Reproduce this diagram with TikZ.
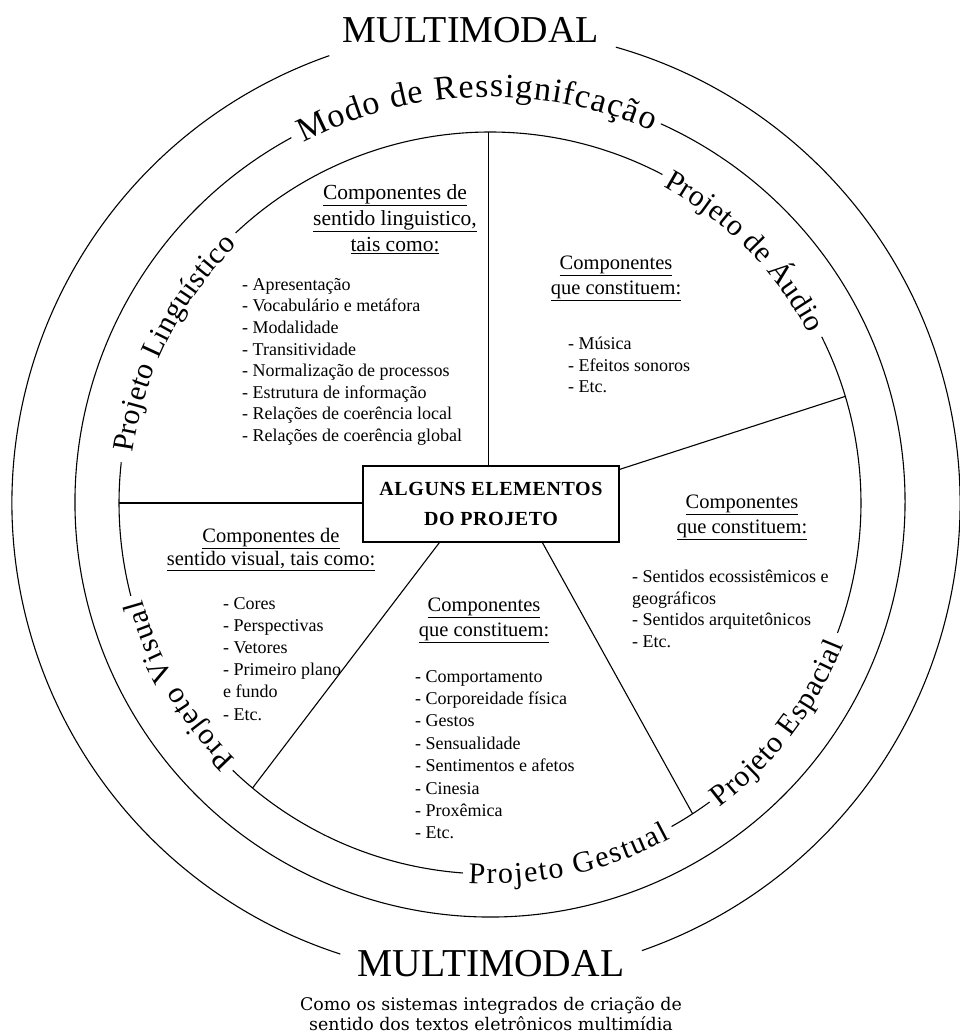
\documentclass[tikz,border=0pt]{standalone}
\usepackage{fontspec}
\setmainfont{Liberation Serif}
\newfontfamily\capfont{DejaVu Serif}
\usetikzlibrary{decorations.text,calc}

\newcommand\ringlabelfont{\fontsize{30}{32}\selectfont}
\newcommand\modofont{\fontsize{34}{36}\selectfont}

\begin{document}
\begin{tikzpicture}[x=1pt,y=1pt,
  ring/.style={line width=1.1pt},
  spoke/.style={line width=1.1pt},
  hubbox/.style={draw, line width=1.2pt, minimum width=256pt, minimum height=76pt,
    inner sep=0pt, align=center,
    font=\fontsize{20}{30}\selectfont\bfseries\addfontfeatures{LetterSpace=3}},
  heading/.style={align=center, inner sep=0pt, anchor=north, font=\fontsize{20.5}{25}\selectfont},
  items/.style={align=left, inner sep=0pt, anchor=north west, font=\fontsize{18}{21.6}\selectfont},
  arclabel/.style={decorate, decoration={text along path, text align=fit to path,
    raise=-10pt, text={|\ringlabelfont|#1}}},
]
\fill[white] (0,0) rectangle (959,1033);
\useasboundingbox (0,0) rectangle (959,1033);

% centres of the three rings
\coordinate (co) at (486,530);
\coordinate (cm) at (490,531);
\coordinate (ci) at (490,530);

% outer ring, open at top and bottom for the MULTIMODAL titles
\draw[ring] ($(co)+(109.3:474)$) arc[start angle=109.3, end angle=252.1, radius=474];
\draw[ring] ($(co)+(-70.8:474)$) arc[start angle=-70.8, end angle=74.1, radius=474];

% middle ring, open at the top
\draw[ring] ($(cm)+(118.6:415)$) arc[start angle=118.6, end angle=425.7, radius=415];
\path[decorate, decoration={text along path, text align=fit to path, raise=-10pt,
    text={|\modofont|Modo de Ressignifcação}}]
  ($(cm)+(117.4:415)$) arc[start angle=117.4, end angle=66.5, radius=415];

% inner ring, open where the five project names sit
\draw[ring] ($(ci)+(173.7:371)$) arc[start angle=173.7, end angle=194.5, radius=371];
\draw[ring] ($(ci)+(226.1:371)$) arc[start angle=226.1, end angle=265.8, radius=371];
\draw[ring] ($(ci)+(-60.7:371)$) arc[start angle=-60.7, end angle=-53.7, radius=371];
\draw[ring] ($(ci)+(-20.5:371)$) arc[start angle=-20.5, end angle=26.6, radius=371];
\draw[ring] ($(ci)+(62.3:371)$) arc[start angle=62.3, end angle=133.3, radius=371];

\path[arclabel=Projeto Linguístico] ($(ci)+(172:371)$) arc[start angle=172, end angle=134.5, radius=371];
\path[arclabel=Projeto de Áudio] ($(ci)+(61.3:371)$) arc[start angle=61.3, end angle=28, radius=371];
\path[arclabel=Projeto Espacial] ($(ci)+(-53:371)$) arc[start angle=-53, end angle=-21.8, radius=371];
\path[arclabel=Projeto Gestual] ($(ci)+(-93.3:371)$) arc[start angle=-93.3, end angle=-61.7, radius=371];
\path[arclabel=Projeto Visual] ($(ci)+(225.2:371)$) arc[start angle=225.2, end angle=195.6, radius=371];

% titles
\node[font=\fontsize{38}{40}\selectfont, anchor=base, inner sep=0pt] (mmtop) at (471,990) {MULTIMODAL};
\node[font=\fontsize{39.5}{42}\selectfont, anchor=base, inner sep=0pt] (mmbot) at (491,56) {MULTIMODAL};
\node[font=\capfont\fontsize{17.4}{20}\selectfont, align=center, anchor=north, inner sep=0pt] (caption) at (491,36)
  {Como os sistemas integrados de criação de\\sentido dos textos eletrônicos multimídia};

% hub and spokes
\node[hubbox] (hub) at (491,529) {ALGUNS ELEMENTOS\\DO PROJETO};

\coordinate (s1) at ($(ci)+(90.3:371)$);
\coordinate (s2) at ($(ci)+(180:371)$);
\coordinate (s3) at ($(ci)+(16.7:371)$);
\coordinate (s4) at ($(ci)+(230.2:371)$);
\coordinate (s5) at ($(ci)+(-56.9:371)$);

\draw[spoke] (hub.north -| s1) -- (s1);
\draw[spoke] (hub.west |- s2) -- (s2);
\draw[spoke] ($(hub.north east)+(0,-4)$) -- (s3);
\draw[spoke] ($(hub.south west)+(77,0)$) -- (s4);
\draw[spoke] ($(hub.south west)+(180,0)$) -- (s5);

% sector contents
\node[heading, font=\fontsize{21.5}{26}\selectfont] (lingh) at (395,849)
  {\underline{Componentes de}\\\underline{sentido linguistico,}\\\underline{tais como:}};
\node[items] (lingl) at (242,755)
  {- Apresentação\\- Vocabulário e metáfora\\- Modalidade\\- Transitividade\\
   - Normalização de processos\\- Estrutura de informação\\
   - Relações de coerência local\\- Relações de coerência global};

\node[heading] (audh) at (616,777) {\underline{Componentes}\\\underline{que constituem:}};
\node[items] (audl) at (568,696) {- Música\\- Efeitos sonoros\\- Etc.};

\node[heading] (esph) at (742,538) {\underline{Componentes}\\\underline{que constituem:}};
\node[items] (espl) at (632,463)
  {- Sentidos ecossistêmicos e\\geográficos\\- Sentidos arquitetônicos\\- Etc.};

\node[heading] (gesh) at (484,435) {\underline{Componentes}\\\underline{que constituem:}};
\node[items, font=\fontsize{18}{22.4}\selectfont] (gesl) at (415,363)
  {- Comportamento\\- Corporeidade física\\- Gestos\\- Sensualidade\\
   - Sentimentos e afetos\\- Cinesia\\- Proxêmica\\- Etc.};

\node[heading, font=\fontsize{20.5}{23}\selectfont] (vish) at (271,505)
  {\underline{Componentes de}\\\underline{sentido visual, tais como:}};
\node[items, font=\fontsize{18}{22.2}\selectfont] (visl) at (223,436)
  {- Cores\\- Perspectivas\\- Vetores\\- Primeiro plano\\e fundo\\- Etc.};
\end{tikzpicture}
\end{document}
